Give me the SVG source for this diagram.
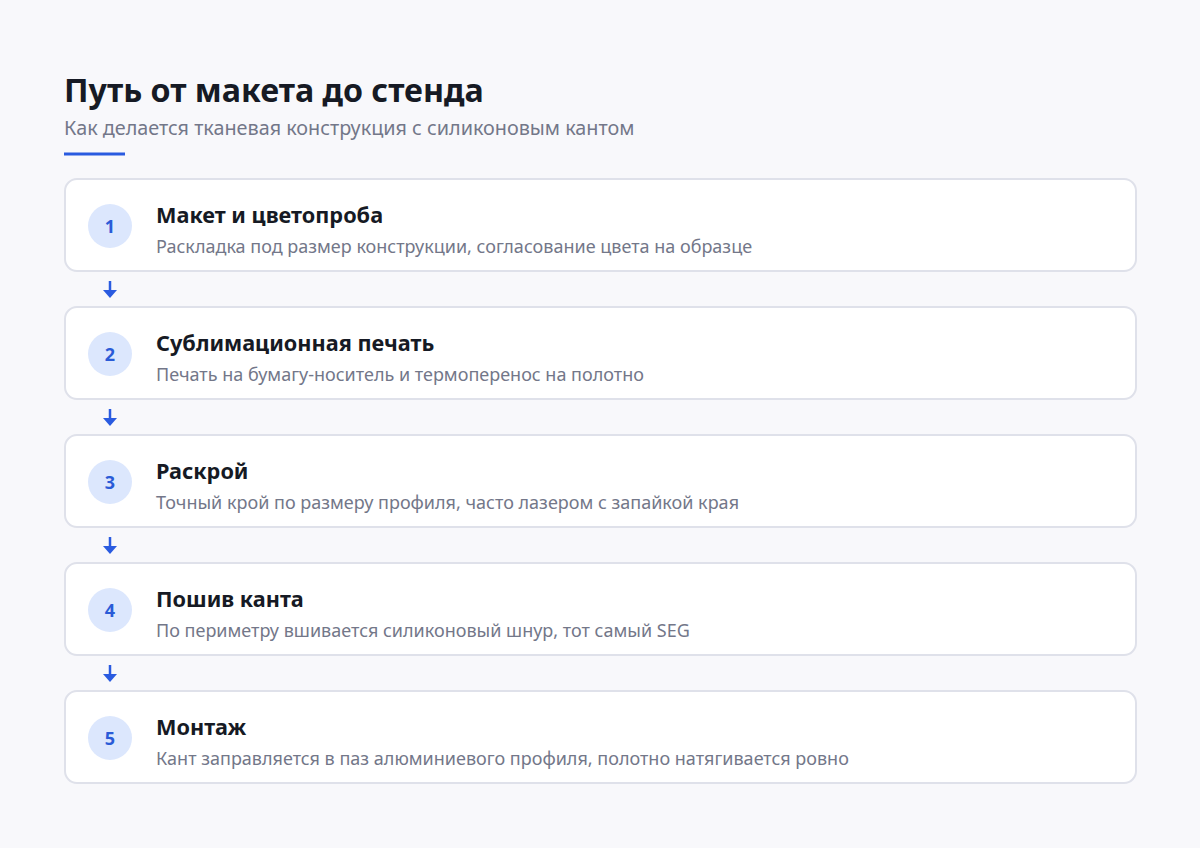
<svg xmlns="http://www.w3.org/2000/svg" width="1200" height="848" viewBox="0 0 1200 848">
<defs>
<style>
.card{fill:#ffffff;stroke:#dfe1ea;stroke-width:2}
.badge{fill:#dce7fd}
.num{font-family:"Noto Sans","Open Sans",sans-serif;font-size:18px;font-weight:700;fill:#2a5bd7;text-anchor:middle}
.ttl{font-family:"Noto Sans","Open Sans",sans-serif;font-size:21.7px;font-weight:700;fill:#161a24}
.dsc{font-family:"Noto Sans","Open Sans",sans-serif;font-size:18px;fill:#737789}
.conn{stroke:#2a5be0;stroke-width:2.5;fill:none}
.head{fill:#2a5be0}
</style>
</defs>
<rect width="1200" height="848" fill="#f8f8fb"/>
<text x="64" y="102" font-family="Noto Sans, Open Sans, sans-serif" font-size="32.2" font-weight="700" fill="#161a24">Путь от макета до стенда</text>
<text x="64" y="135" font-family="Noto Sans, Open Sans, sans-serif" font-size="19.8" fill="#737789">Как делается тканевая конструкция с силиконовым кантом</text>
<rect x="64" y="152.5" width="61" height="3" fill="#2a5be0"/>
<g id="connectors">
<line class="conn" x1="110" y1="281" x2="110" y2="291"/><path class="head" d="M103 290 L117 290 L110 298 Z"/>
<line class="conn" x1="110" y1="409" x2="110" y2="419"/><path class="head" d="M103 418 L117 418 L110 426 Z"/>
<line class="conn" x1="110" y1="537" x2="110" y2="547"/><path class="head" d="M103 546 L117 546 L110 554 Z"/>
<line class="conn" x1="110" y1="665" x2="110" y2="675"/><path class="head" d="M103 674 L117 674 L110 682 Z"/>
</g>
<g id="step1">
<rect class="card" x="65" y="179" width="1071" height="92" rx="12"/>
<circle class="badge" cx="110" cy="226" r="22"/>
<text class="num" x="110" y="232.5">1</text>
<text class="ttl" x="156" y="223">Макет и цветопроба</text>
<text class="dsc" x="156" y="253">Раскладка под размер конструкции, согласование цвета на образце</text>
</g>
<g id="step2">
<rect class="card" x="65" y="307" width="1071" height="92" rx="12"/>
<circle class="badge" cx="110" cy="354" r="22"/>
<text class="num" x="110" y="360.5">2</text>
<text class="ttl" x="156" y="351">Сублимационная печать</text>
<text class="dsc" x="156" y="381">Печать на бумагу-носитель и термоперенос на полотно</text>
</g>
<g id="step3">
<rect class="card" x="65" y="435" width="1071" height="92" rx="12"/>
<circle class="badge" cx="110" cy="482" r="22"/>
<text class="num" x="110" y="488.5">3</text>
<text class="ttl" x="156" y="479">Раскрой</text>
<text class="dsc" x="156" y="509">Точный крой по размеру профиля, часто лазером с запайкой края</text>
</g>
<g id="step4">
<rect class="card" x="65" y="563" width="1071" height="92" rx="12"/>
<circle class="badge" cx="110" cy="610" r="22"/>
<text class="num" x="110" y="616.5">4</text>
<text class="ttl" x="156" y="607">Пошив канта</text>
<text class="dsc" x="156" y="637">По периметру вшивается силиконовый шнур, тот самый SEG</text>
</g>
<g id="step5">
<rect class="card" x="65" y="691" width="1071" height="92" rx="12"/>
<circle class="badge" cx="110" cy="738" r="22"/>
<text class="num" x="110" y="744.5">5</text>
<text class="ttl" x="156" y="735">Монтаж</text>
<text class="dsc" x="156" y="765">Кант заправляется в паз алюминиевого профиля, полотно натягивается ровно</text>
</g>
</svg>
